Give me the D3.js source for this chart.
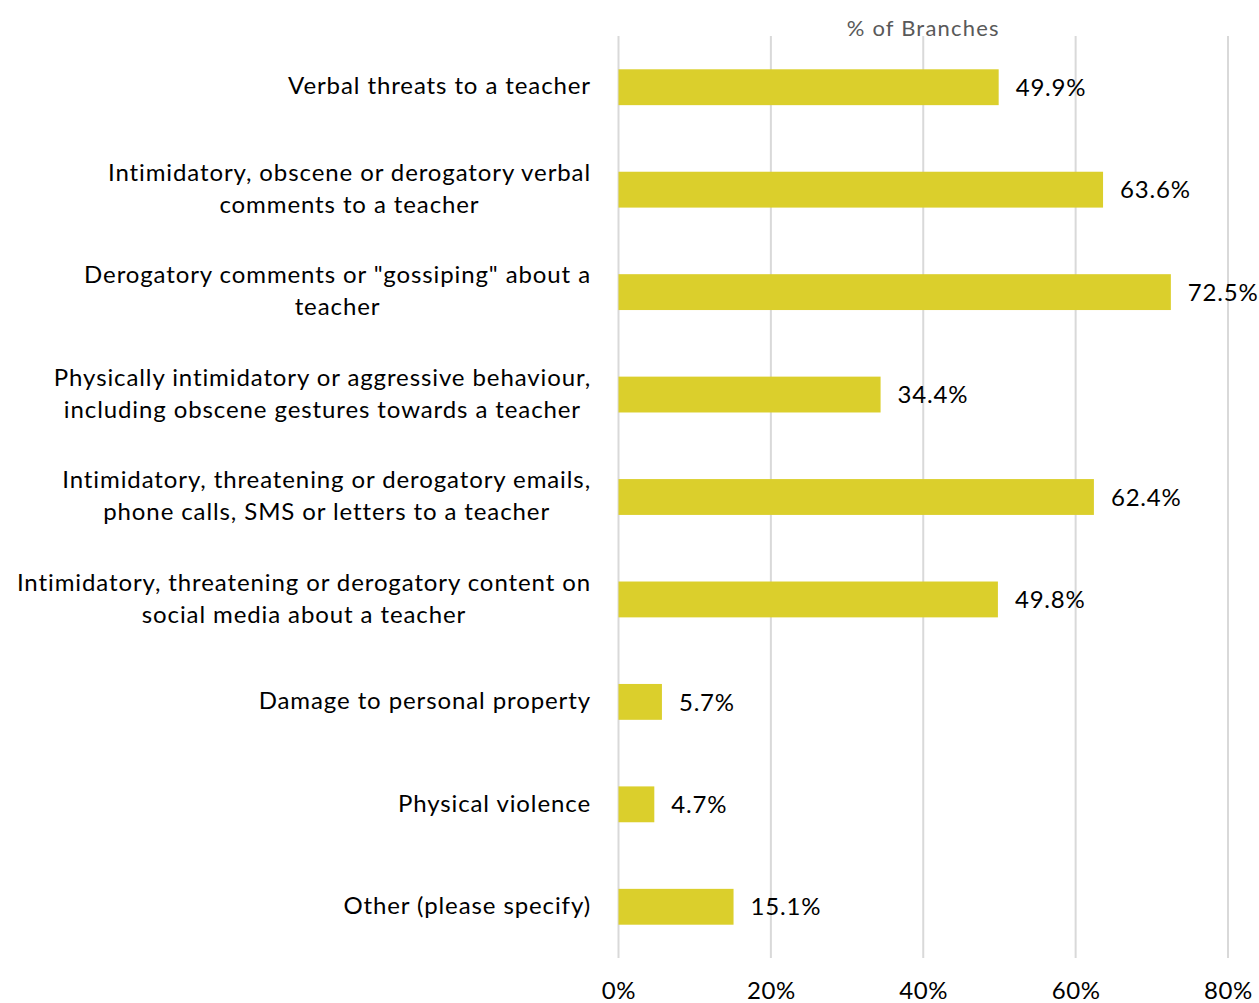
<!DOCTYPE html>
<html>
<head>
<meta charset="utf-8">
<script src="https://cdn.jsdelivr.net/npm/d3@7"></script>
<style>
  html, body { margin: 0; padding: 0; background: #fff; }
  svg { display: block; font-family: Lato, "Open Sans", sans-serif; }
</style>
</head>
<body>
<svg id="chart" width="1259" height="1003"></svg>
<script>
// Incident types (each entry is a list of wrapped lines)
const categories = [
  ["Verbal threats to a teacher"],
  ["Intimidatory, obscene or derogatory verbal", "comments to a teacher"],
  ["Derogatory comments or \"gossiping\" about a", "teacher"],
  ["Physically intimidatory or aggressive behaviour,", "including obscene gestures towards a teacher"],
  ["Intimidatory, threatening or derogatory emails,", "phone calls, SMS or letters to a teacher"],
  ["Intimidatory, threatening or derogatory content on", "social media about a teacher"],
  ["Damage to personal property"],
  ["Physical violence"],
  ["Other (please specify)"]
];
// Share of branches reporting each type (%)
const values = [49.9, 63.6, 72.5, 34.4, 62.4, 49.8, 5.7, 4.7, 15.1];
const tickValues = [0, 20, 40, 60, 80];
const axisTitle = "% of Branches";

(function draw() {
  const svg = d3.select("#chart");
  const plotLeft = 618.5, plotRight = 1228, plotTop = 36, plotBottom = 958;

  const x = d3.scaleLinear().domain([0, 80]).range([plotLeft, plotRight]);
  const y = d3.scaleBand().domain(d3.range(categories.length))
    .range([plotTop, plotBottom]).paddingInner(0.65).paddingOuter(0.325);

  // vertical gridlines
  svg.append("g").selectAll("line").data(tickValues).join("line")
    .attr("x1", d => x(d)).attr("x2", d => x(d))
    .attr("y1", plotTop).attr("y2", plotBottom)
    .attr("stroke", "#d9d9d9").attr("stroke-width", 2);

  // axis tick labels along the bottom
  const axis = d3.axisBottom(x).tickValues(tickValues).tickFormat(d => d + "%").tickSize(0).tickPadding(0);
  const ax = svg.append("g").attr("transform", "translate(0, 982)").call(axis);
  ax.select(".domain").remove();
  ax.selectAll("text").attr("font-size", 24).attr("fill", "#000")
    .attr("font-family", "Lato, 'Open Sans', sans-serif")
    .attr("letter-spacing", 0.6).attr("dy", "0.71em");

  // axis title
  svg.append("text").attr("x", x(40)).attr("y", 36)
    .attr("text-anchor", "middle").attr("font-size", 22).attr("fill", "#595959")
    .attr("letter-spacing", 1.2)
    .text(axisTitle);

  // bars
  svg.append("g").selectAll("rect").data(values).join("rect")
    .attr("x", x(0)).attr("y", (d, i) => y(i))
    .attr("width", d => x(d) - x(0)).attr("height", y.bandwidth())
    .attr("fill", "#dbcf2c");

  // value labels
  svg.append("g").selectAll("text").data(values).join("text")
    .attr("x", d => x(d) + 17).attr("y", (d, i) => y(i) + y.bandwidth() / 2)
    .attr("dy", "0.36em").attr("font-size", 24).attr("fill", "#000")
    .attr("letter-spacing", 0.8)
    .text(d => d.toFixed(1) + "%");

  // category labels: lines centred within a block right-aligned to the axis
  const labelRight = 591, lineH = 32;
  categories.forEach((lines, i) => {
    const cy = y(i) + y.bandwidth() / 2;
    const g = svg.append("g");
    const texts = lines.map((ln, k) => g.append("text")
      .attr("font-size", 24).attr("fill", "#000")
      .attr("letter-spacing", 0.9)
      .attr("text-anchor", "middle")
      .attr("y", cy + (k - (lines.length - 1) / 2) * lineH)
      .attr("dy", "0.3em")
      .text(ln));
    const maxW = d3.max(texts, t => t.node().getComputedTextLength());
    texts.forEach(t => t.attr("x", labelRight - maxW / 2));
  });
})();
</script>
</body>
</html>
